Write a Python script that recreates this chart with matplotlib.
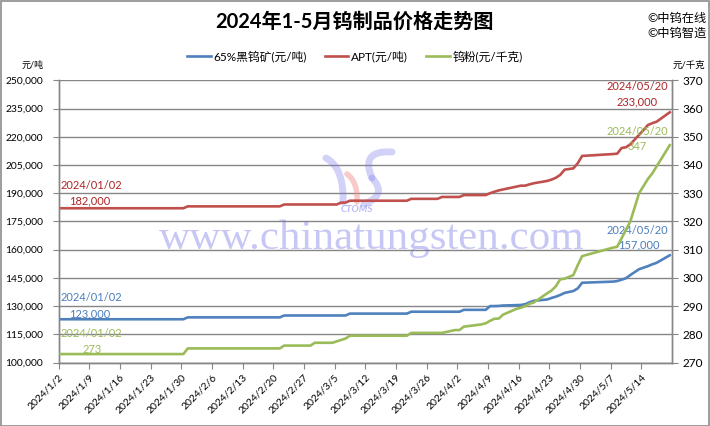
import numpy as np
import pandas as pd
import matplotlib
matplotlib.use("Agg")
import matplotlib.pyplot as plt
import matplotlib.dates as mdates
from matplotlib.ticker import FuncFormatter, FixedLocator
from matplotlib.patches import Rectangle

plt.rcParams["font.family"] = ["Lato", "Noto Sans CJK SC", "DejaVu Sans"]
plt.rcParams["axes.unicode_minus"] = False

# ---------------------------------------------------------
#  Data
# ---------------------------------------------------------
dates = [
    "2024-01-02", "2024-01-30", "2024-01-31", "2024-02-21", "2024-02-22",
    "2024-02-28", "2024-02-29", "2024-03-04", "2024-03-05", "2024-03-06",
    "2024-03-07", "2024-03-08", "2024-03-21", "2024-03-22", "2024-03-28",
    "2024-03-29", "2024-04-01", "2024-04-02", "2024-04-03", "2024-04-07",
    "2024-04-08", "2024-04-09", "2024-04-10", "2024-04-11", "2024-04-12",
    "2024-04-15", "2024-04-16", "2024-04-17", "2024-04-18", "2024-04-19",
    "2024-04-22", "2024-04-23", "2024-04-24", "2024-04-25", "2024-04-26",
    "2024-04-28", "2024-04-29", "2024-04-30", "2024-05-07", "2024-05-08",
    "2024-05-09", "2024-05-10", "2024-05-11", "2024-05-13", "2024-05-14",
    "2024-05-15", "2024-05-16", "2024-05-17", "2024-05-20",
]
apt = [
    182000, 182000, 183000, 183000, 184000,
    184000, 184000, 184000, 184000, 185000,
    185000, 186000, 186000, 187000, 187000,
    188000, 188000, 188000, 189000, 189000,
    189000, 190000, 190800, 191500, 192000,
    193500, 194000, 194000, 194700, 195300,
    196500, 197200, 198200, 199700, 202500,
    203200, 205900, 209800, 210800, 211000,
    214000, 214400, 216000, 221000, 223500,
    226200, 227200, 228000, 233000,
]
concentrate = [
    123000, 123000, 124000, 124000, 125000,
    125000, 125000, 125000, 125000, 125000,
    125000, 126000, 126000, 127000, 127000,
    127000, 127000, 127000, 128000, 128000,
    128000, 130000, 130000, 130100, 130300,
    130500, 130600, 131000, 132000, 132800,
    133500, 134300, 135000, 135900, 137000,
    138000, 139400, 142400, 143000, 143300,
    144000, 144800, 146500, 149600, 150400,
    151200, 152200, 153000, 157000,
]
powder = [
    273, 273, 275, 275, 276,
    276, 277, 277, 277.5, 278,
    278.5, 279.5, 279.5, 280.5, 280.5,
    280.5, 281.5, 281.5, 282.7, 283.5,
    283.9, 284.8, 285.5, 285.6, 287,
    289, 289.4, 290, 290.8, 291.3,
    294.5, 295.5, 297, 299.5, 299.7,
    301, 304.5, 307.7, 310.7, 311,
    314, 317, 320, 330, 332.5,
    335, 337, 339.5, 347,
]
series_names = ["65%黑钨矿(元/吨)", "APT(元/吨)", "钨粉(元/千克)"]
left_ticks = [100000, 115000, 130000, 145000, 160000, 175000, 190000, 205000, 220000, 235000, 250000]
right_ticks = [270, 280, 290, 300, 310, 320, 330, 340, 350, 360, 370]

dates = pd.to_datetime(dates)

BLUE = "#4F81BD"
RED = "#C0504D"
GREEN = "#9BBB59"
BLUE_TXT = "#4A7EBB"
RED_TXT = "#AE2326"
GREEN_TXT = "#9BBB59"
GRID = "#868686"

# ---------------------------------------------------------
#  Figure / axes
# ---------------------------------------------------------
fig = plt.figure(figsize=(7.1, 4.26), dpi=100)
fig.patch.set_facecolor("white")
ax = fig.add_axes([0.0824, 0.149, 0.864, 0.6625])
ax2 = ax.twinx()

ax.plot(dates, concentrate, color=BLUE, lw=1.9, zorder=3, label=series_names[0])
ax.plot(dates, apt, color=RED, lw=1.9, zorder=3, label=series_names[1])
ax2.plot(dates, powder, color=GREEN, lw=1.9, zorder=3, label=series_names[2])

ax.set_ylim(left_ticks[0], left_ticks[-1])
ax2.set_ylim(right_ticks[0], right_ticks[-1])
ax.set_yticks(left_ticks)
ax2.set_yticks(right_ticks)
ax.yaxis.set_major_formatter(FuncFormatter(lambda v, p: f"{int(v):,}"))

half = pd.Timedelta(hours=12)
ax.set_xlim(dates[0] - half, dates[-1] + half)
tick_dates = pd.date_range(dates[0], dates[-1], freq="7D")
ax.xaxis.set_major_locator(FixedLocator(mdates.date2num(tick_dates - half)))
ax.set_xticklabels([f"{d.year}/{d.month}/{d.day}" for d in tick_dates],
                   rotation=45, ha="right", rotation_mode="anchor", fontsize=7.5)

ax.grid(axis="y", color=GRID, lw=1.0, zorder=0)
ax.set_axisbelow(True)
for a in (ax, ax2):
    a.spines["top"].set_visible(False)
    for s in ("left", "right", "bottom"):
        a.spines[s].set_color(GRID)
        a.spines[s].set_linewidth(1.0)
ax.tick_params(axis="y", colors=GRID, labelcolor="black", labelsize=7.4, length=4, pad=7)
ax2.tick_params(axis="y", colors=GRID, labelcolor="black", labelsize=8.5, length=4)
ax.tick_params(axis="x", colors=GRID, labelcolor="black", length=4)

# ---------------------------------------------------------
#  Watermark (text + rough logo strokes)
# ---------------------------------------------------------
ax.text(0.51, 0.44, "www.chinatungsten.com", transform=ax.transAxes,
        ha="center", va="center", fontsize=31, family="Liberation Serif",
        color="#6E6EE8", alpha=0.38, zorder=1)
ax.text(0.487, 0.543, "CTOMS", transform=ax.transAxes, ha="center", va="center",
        fontsize=7, style="italic", weight="bold", color="#8C8CF0", alpha=0.6, zorder=1)


def px2ax(px, py):
    return (np.asarray(px) - 58.5) / 613.5, (362.5 - np.asarray(py)) / 282.2


def stroke(p0, c, p1, color, lw, alpha):
    t = np.linspace(0, 1, 40)[:, None]
    pts = (1 - t) ** 2 * np.array(p0) + 2 * (1 - t) * t * np.array(c) + t ** 2 * np.array(p1)
    xs, ys = px2ax(pts[:, 0], pts[:, 1])
    ax.plot(xs, ys, transform=ax.transAxes, color=color, lw=lw, alpha=alpha,
            solid_capstyle="round", zorder=1)


stroke((326, 158), (344, 168), (343, 202), "#7F7FEF", 5, 0.35)
stroke((347, 174), (358, 182), (357, 202), "#F08A8A", 4, 0.45)
stroke((392, 152), (360, 150), (372, 178), "#7F7FEF", 5, 0.35)
stroke((372, 178), (388, 195), (364, 204), "#7F7FEF", 5, 0.35)

# ---------------------------------------------------------
#  Data labels
# ---------------------------------------------------------
lab = dict(fontsize=8, zorder=5, textcoords="offset points")
ax.annotate(f"{dates[0]:%Y/%m/%d}", (dates[0], apt[0]), xytext=(0, 14),
            ha="left", color=RED_TXT, **lab)
ax.annotate(f"{apt[0]:,}", (dates[0], apt[0]), xytext=(6, 3),
            ha="left", color=RED_TXT, **lab)
ax.annotate(f"{dates[0]:%Y/%m/%d}", (dates[0], concentrate[0]), xytext=(0, 13.5),
            ha="left", color=BLUE_TXT, **lab)
ax.annotate(f"{concentrate[0]:,}", (dates[0], concentrate[0]), xytext=(6, 1.5),
            ha="left", color=BLUE_TXT, **lab)
ax2.annotate(f"{dates[0]:%Y/%m/%d}", (dates[0], powder[0]), xytext=(0, 12),
             ha="left", color=GREEN_TXT, **lab)
ax2.annotate(f"{powder[0]:g}", (dates[0], powder[0]), xytext=(16, 1),
             ha="left", color=GREEN_TXT, **lab)

ax.annotate(f"{dates[-1]:%Y/%m/%d}", (dates[-1], apt[-1]), xytext=(-1.5, 16),
            ha="right", color=RED_TXT, **lab)
ax.annotate(f"{apt[-1]:,}", (dates[-1], apt[-1]), xytext=(-9, 5),
            ha="right", color=RED_TXT, **lab)
ax2.annotate(f"{dates[-1]:%Y/%m/%d}", (dates[-1], powder[-1]), xytext=(-1.5, 7.5),
             ha="right", color=GREEN_TXT, **lab)
ax2.annotate(f"{powder[-1]:g}", (dates[-1], powder[-1]), xytext=(-16.5, -3.5),
             ha="right", color=GREEN_TXT, **lab)
ax.annotate(f"{dates[-1]:%Y/%m/%d}", (dates[-1], concentrate[-1]), xytext=(-1.5, 15.5),
            ha="right", color=BLUE_TXT, **lab)
ax.annotate(f"{concentrate[-1]:,}", (dates[-1], concentrate[-1]), xytext=(-7.5, 5),
            ha="right", color=BLUE_TXT, **lab)

# ---------------------------------------------------------
#  Titles, legend, units
# ---------------------------------------------------------
fig.text(0.4986, 0.948, "2024年1-5月钨制品价格走势图", ha="center", va="center",
         fontsize=14.5, weight="bold")
fig.text(0.912, 0.958, "©中钨在线", ha="left", va="center", fontsize=8.8)
fig.text(0.912, 0.922, "©中钨智造", ha="left", va="center", fontsize=8.8)

h1, l1 = ax.get_legend_handles_labels()
h2, l2 = ax2.get_legend_handles_labels()
fig.legend(h1 + h2, l1 + l2, loc="center", bbox_to_anchor=(0.5, 0.8685), ncol=3,
           frameon=False, fontsize=8.5, handlelength=2.0, columnspacing=1.5,
           handletextpad=0.25)

fig.text(0.031, 0.847, "元/吨", ha="left", va="center", fontsize=6.5)
fig.text(0.993, 0.847, "元/千克", ha="right", va="center", fontsize=6.8)

# outer border
fig.add_artist(Rectangle((0.001, 0.001), 0.997, 0.997, transform=fig.transFigure,
                         fill=False, edgecolor="#8C8C8C", lw=1.2))

fig.savefig("out.png", dpi=100, facecolor="white")
